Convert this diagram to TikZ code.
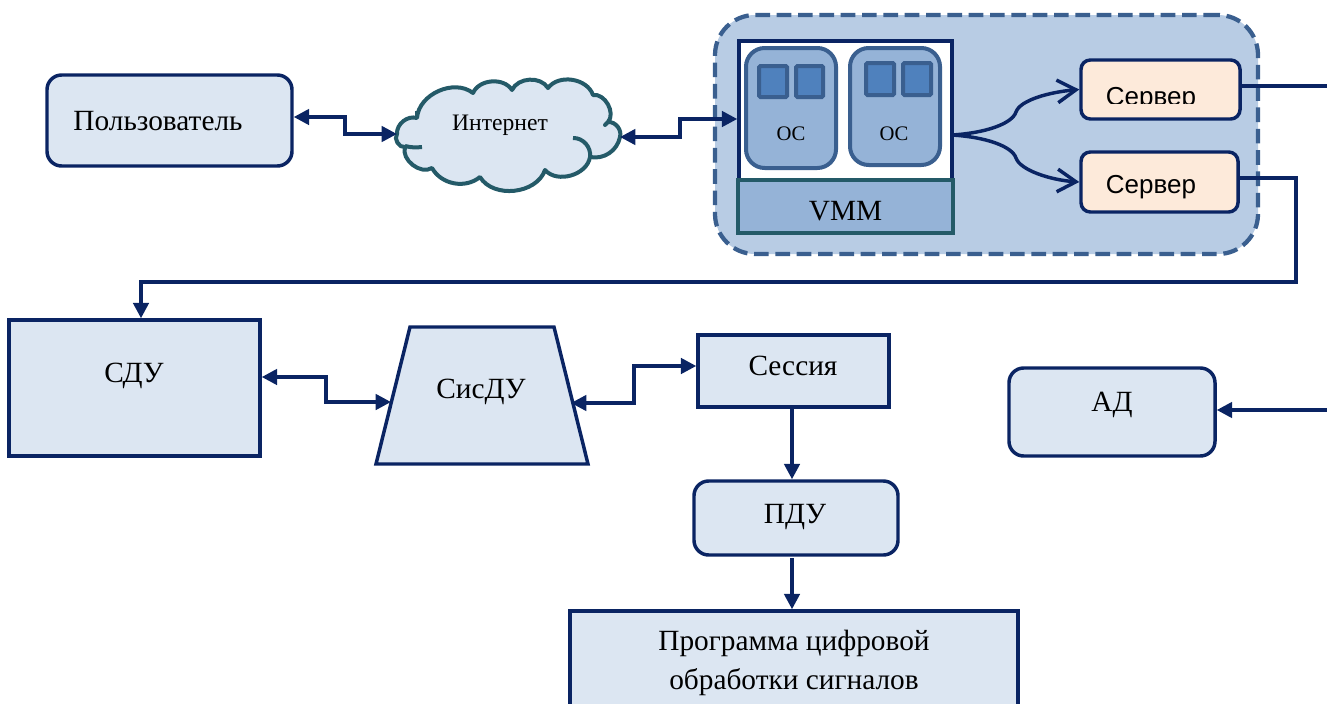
\documentclass[tikz,border=0pt]{standalone}
\usepackage{fontspec}
\setmainfont{Liberation Serif}
\newfontfamily\srvfont{Liberation Sans}
\usetikzlibrary{arrows.meta}
\definecolor{navy}{HTML}{0A2463}
\definecolor{lightblue}{HTML}{DCE6F2}
\definecolor{midblue}{HTML}{B8CCE4}
\definecolor{osblue}{HTML}{95B3D7}
\definecolor{edgeblue}{HTML}{3A5F8F}
\definecolor{chipblue}{HTML}{4F81BD}
\definecolor{tealedge}{HTML}{245A68}
\definecolor{peach}{HTML}{FDEADA}
\tikzset{
  boxsize/.style 2 args={minimum width=#1*0.75pt,minimum height=#2*0.75pt,inner sep=0pt},
  plainbox/.style={draw=navy,line width=2.6pt,fill=lightblue},
  roundbox/.style={plainbox,rounded corners=11pt},
  osbox/.style={draw=edgeblue,line width=3pt,fill=osblue,rounded corners=14pt},
  chip/.style={draw=edgeblue,line width=3pt,fill=chipblue,rounded corners=1pt},
  srvbox/.style={draw=navy,line width=2.6pt,fill=peach,rounded corners=7pt},
  link/.style={draw=navy,line width=2.6pt,line join=miter},
  solid tip/.style={-{Triangle[length=11.5pt,width=11.5pt]}},
  both tips/.style={{Triangle[length=11.5pt,width=11.5pt]}-{Triangle[length=11.5pt,width=11.5pt]}},
  open tip/.style={-{Straight Barb[length=14pt,width=17pt,line width=2.6pt]}},
  txt/.style={font=\fontsize{22}{26}\selectfont,inner sep=0pt},
  cloudline/.style={draw=tealedge,line width=3pt},
}
\begin{document}
\begin{tikzpicture}[x=0.75pt,y=-0.75pt]
\clip (0,0) rectangle (1327,703);

% host with the virtual machine
\node[draw=edgeblue,line width=3.2pt,dash pattern=on 11pt off 5pt,fill=midblue,rounded corners=30pt,boxsize={543}{239}] (host) at (986.5,134.5) {};
\node[draw=navy,line width=2.6pt,fill=white,boxsize={213}{140}] (vm) at (845.5,111) {};
\node[draw=tealedge,line width=3pt,fill=osblue,boxsize={215}{53}] (vmm) at (845.5,206.5) {};
\node[txt] (vmm text) at (845.5,211.5) {VMM};

\node[osbox,boxsize={90}{120}] (os1) at (791,108) {};
\node[osbox,boxsize={90}{117}] (os2) at (895,106.5) {};
\node[chip,boxsize={28}{31}] (chip1) at (773,81.5) {};
\node[chip,boxsize={27}{31}] (chip2) at (809.5,81.5) {};
\node[chip,boxsize={28}{32}] (chip3) at (880,79) {};
\node[chip,boxsize={28}{32}] (chip4) at (917,79) {};
\node[txt,font=\fontsize{15.5}{18}\selectfont] (os1 text) at (791,134) {ОС};
\node[txt,font=\fontsize{15.5}{18}\selectfont] (os2 text) at (894,134) {ОС};

\node[srvbox,boxsize={159}{59}] (srv1) at (1160.5,89.5) {};
\node[srvbox,boxsize={157}{60}] (srv2) at (1159.5,182) {};
\begin{scope}
\clip (1090,70) rectangle (1230,103);
\node[txt,font=\srvfont\fontsize{19.5}{23}\selectfont] (srv1 text) at (1151,99) {Сервер};
\end{scope}
\node[txt,font=\srvfont\fontsize{19.5}{23}\selectfont] (srv2 text) at (1151,187) {Сервер};

% upper row
\node[roundbox,boxsize={245}{91}] (user) at (169.5,120.5) {};
\node[txt] (user text) at (158,121) {Пользователь};

\coordinate (inet w) at (397,134);
\coordinate (inet e) at (620,137);
\draw[cloudline,fill=lightblue,line join=round]
  (inet w) to[bend left=55] (417,118) to[bend left=62] (473,93) to[bend left=62] (512,90)
  to[bend left=62] (548,88) to[bend left=62] (593,95) to[bend left=70] (608,122)
  to[bend left=0] (605,125) to[bend left=0] (608,122)
  to[bend left=55] (inet e) to[bend left=45] (590,157) to[bend left=65] (545,170)
  to[bend left=65] (480,177) to[bend left=50] (432,168) to[bend left=70] (405,147)
  to[bend left=70] cycle;
\draw[cloudline] (573,138) to[bend left=50] (590,157);
\draw[cloudline] (422,147) to[bend left=10] (405,146);
\draw[cloudline] (417,118) -- (417,111);
\node[txt,font=\fontsize{17.7}{21}\selectfont] (inet text) at (500,125) {Интернет};

\coordinate (u1) at (345,117);
\coordinate (u2) at (345,134);
\draw[link,both tips] (u1 -| user.east) -- (u1) -- (u2) -- (inet w);
\coordinate (v1) at (680,137);
\coordinate (v2) at (680,119);
\draw[link,both tips] (inet e) -- (v1) -- (v2) -- (v2 -| vm.west);

% fork to the servers
\coordinate (fork) at (952,135);
\draw[link,open tip] (fork) .. controls (985,133) and (1012,124) .. (1016,112) .. controls (1020,100) and (1050,92) .. (srv1.west);
\draw[link,open tip] (fork) .. controls (985,137) and (1012,146) .. (1016,158) .. controls (1020,170) and (1050,180) .. (srv2.west);

% lower row
\node[plainbox,boxsize={251}{136}] (sdu) at (134.5,388) {};
\node[txt] (sdu text) at (134,376) {СДУ};
\coordinate (sis w) at (391,402);
\coordinate (sis e) at (571,403);
\draw[plainbox,line join=miter] (376,464) -- (410,327) -- (554,327) -- (588,464) -- cycle;
\node[txt] (sisdu text) at (481,392) {СисДУ};
\node[plainbox,boxsize={191}{72}] (sess) at (793.5,371) {};
\node[txt] (sess text) at (793,366) {Сессия};
\node[roundbox,boxsize={206}{88}] (ad) at (1112,412) {};
\node[txt] (ad text) at (1112,405) {АД};
\node[roundbox,boxsize={204}{74}] (pdu) at (796,518) {};
\node[txt] (pdu text) at (795,517) {ПДУ};
\node[plainbox,boxsize={448}{130}] (prog) at (794,676) {};
\node[txt] (prog text1) at (794,643) {Программа цифровой};
\node[txt] (prog text2) at (794,682) {обработки сигналов};

\coordinate (s1) at (326,377);
\coordinate (s2) at (326,402);
\draw[link,both tips] (s1 -| sdu.east) -- (s1) -- (s2) -- (sis w);
\coordinate (d1) at (634,403);
\coordinate (d2) at (634,366);
\draw[link,both tips] (sis e) -- (d1) -- (d2) -- (d2 -| sess.west);
\coordinate (t1) at (792,407);
\draw[link,solid tip] (t1) -- (t1 |- pdu.north);
\coordinate (t2) at (792,558);
\draw[link,solid tip] (t2) -- (t2 |- prog.north);

% long runs
\coordinate (r1) at (1327,86);
\draw[link] (r1 -| srv1.east) -- (r1);
\coordinate (r2) at (1296,178);
\coordinate (r3) at (1296,282);
\coordinate (r4) at (141,282);
\draw[link,solid tip] (r2 -| srv2.east) -- (r2) -- (r3) -- (r4) -- (r4 |- sdu.north);
\coordinate (r5) at (1327,410);
\draw[link,solid tip] (r5) -- (r5 -| ad.east);
\end{tikzpicture}
\end{document}
